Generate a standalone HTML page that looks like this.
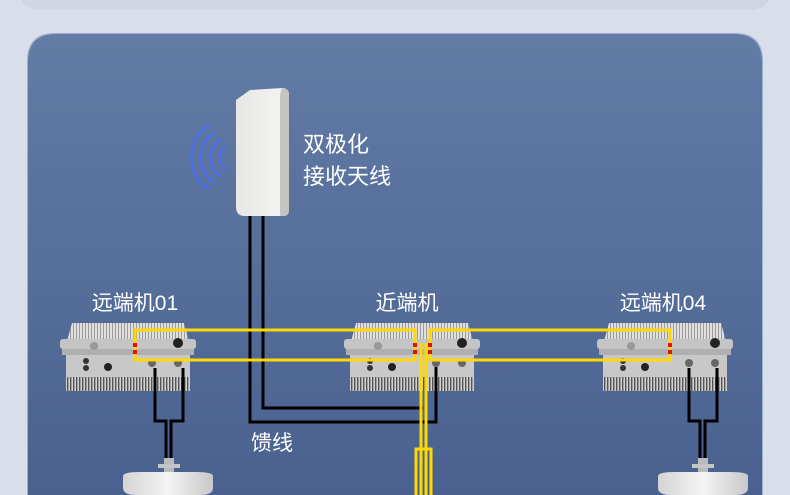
<!DOCTYPE html>
<html><head><meta charset="utf-8"><style>
html,body{margin:0;padding:0;width:790px;height:495px;overflow:hidden;background:#d9dfea;}
svg{display:block}
text{font-family:"Liberation Sans","Noto Sans CJK SC",sans-serif;fill:#fff;}
</style></head><body>
<svg width="790" height="495" viewBox="0 0 790 495" xmlns="http://www.w3.org/2000/svg">
<defs>
<linearGradient id="pg" x1="0" y1="0" x2="0" y2="1">
<stop offset="0" stop-color="#627ca6"/><stop offset="1" stop-color="#4a618f"/>
</linearGradient>
<linearGradient id="ant" x1="0" y1="0" x2="1" y2="0">
<stop offset="0" stop-color="#e6e6e4"/><stop offset="0.8" stop-color="#f2f2f0"/><stop offset="1" stop-color="#d8d8d6"/>
</linearGradient>
<linearGradient id="dome" x1="0" y1="0" x2="1" y2="0">
<stop offset="0" stop-color="#d4d4d4"/><stop offset="0.5" stop-color="#f4f4f4"/><stop offset="1" stop-color="#c8c8c8"/>
</linearGradient>
<pattern id="fin" width="3" height="10" patternUnits="userSpaceOnUse">
<rect width="3" height="10" fill="#d0d0d0"/><rect width="1.4" height="10" fill="#555"/>
</pattern>
<pattern id="fin2" width="3" height="10" patternUnits="userSpaceOnUse">
<rect width="3" height="10" fill="#e0e0e0"/><rect width="1" height="10" fill="#999"/>
</pattern>
<g id="unit">
<path d="M8 26 L14 4 H126 L132 26 Z" fill="url(#fin2)"/>
<rect x="2" y="20" width="136" height="10" rx="3" fill="#c4c4c4"/>
<rect x="4" y="30" width="132" height="6" fill="#b0b0b0"/>
<rect x="8" y="36" width="124" height="24" fill="#c8c8c8"/>
<rect x="8" y="58" width="124" height="14" fill="url(#fin)"/>
<circle cx="36" cy="27" r="4" fill="#999"/>
<circle cx="28" cy="42" r="3" fill="#333"/><circle cx="28" cy="49" r="3" fill="#333"/>
<circle cx="94" cy="44" r="4" fill="#666"/><circle cx="120" cy="44" r="4" fill="#666"/>
<circle cx="120" cy="24" r="5" fill="#222"/>
<circle cx="50" cy="48" r="4" fill="#222"/>
</g>
</defs>
<rect x="20" y="-20" width="750" height="30" rx="20" fill="#cfd5e3"/>
<path d="M27 495 V61 Q27 33 55 33 H735 Q763 33 763 61 V495 Z" fill="#9fb0cd"/>
<path d="M28 495 V62 Q28 34 56 34 H734 Q762 34 762 62 V495 Z" fill="url(#pg)"/>

<!-- antenna -->
<path d="M236 100 L250 90 L282 88 Q289 88 289 95 V210 Q289 216 283 216 H245 Q236 216 236 207 Z" fill="url(#ant)"/>
<path d="M282 88 Q289 88 289 95 V210 Q289 216 283 216 H280 V95 Z" fill="#c4c4c2"/>
<g fill="none" stroke="#4a6cff" stroke-width="2" stroke-linecap="round">
<path d="M225 147 A14 14 0 0 0 225 169"/>
<path d="M220 140 A22 22 0 0 0 220 176"/>
<path d="M214 133 A30 30 0 0 0 214 183"/>
<path d="M208 126 A38 38 0 0 0 208 189"/>
</g>
<text x="303" y="152" font-size="22">双极化</text>
<text x="303" y="184" font-size="22">接收天线</text>

<!-- units -->
<use href="#unit" x="58" y="319"/>
<use href="#unit" x="342" y="319"/>
<use href="#unit" x="595" y="319"/>

<!-- black cables -->
<g fill="none" stroke="#000" stroke-width="3">
<path d="M250 216 V422 H436 V367"/>
<path d="M263 216 V408 H423"/>
<path d="M155 368 V421 H166 V462"/>
<path d="M183 368 V421 H171 V462"/>
<path d="M689 368 V421 H700 V462"/>
<path d="M717 368 V421 H705 V462"/>
</g>

<!-- yellow -->
<g fill="none" stroke="#ffd800" stroke-width="3">
<rect x="135" y="330" width="280" height="30"/>
<rect x="430" y="330" width="240" height="30"/>
<path d="M421 343 V495"/>
<path d="M426 343 V495"/>
<path d="M416 495 V449 H431 V495"/>
</g>
<g fill="#e01010">
<rect x="133" y="343" width="4" height="4"/><rect x="133" y="350" width="4" height="4"/>
<rect x="413" y="343" width="4" height="4"/><rect x="413" y="350" width="4" height="4"/>
<rect x="428" y="343" width="4" height="4"/><rect x="428" y="350" width="4" height="4"/>
<rect x="668" y="343" width="4" height="4"/><rect x="668" y="350" width="4" height="4"/>
</g>

<!-- ceiling antennas -->
<g>
<rect x="164" y="458" width="10" height="18" fill="#bbb"/><rect x="158" y="464" width="22" height="4" fill="#c6c6c6"/>
<path d="M123 476 Q123 472 140 472 H196 Q213 472 213 476 V488 Q213 495 200 495 H136 Q123 495 123 488 Z" fill="url(#dome)"/>
<rect x="698" y="458" width="10" height="18" fill="#bbb"/><rect x="692" y="464" width="22" height="4" fill="#c6c6c6"/>
<path d="M658 476 Q658 472 675 472 H731 Q748 472 748 476 V488 Q748 495 735 495 H671 Q658 495 658 488 Z" fill="url(#dome)"/>
</g>

<text x="135" y="310" font-size="21" text-anchor="middle">远端机01</text>
<text x="407" y="310" font-size="21" text-anchor="middle">近端机</text>
<text x="663" y="310" font-size="21" text-anchor="middle">远端机04</text>
<text x="251" y="450" font-size="21">馈线</text>
</svg>
</body></html>
